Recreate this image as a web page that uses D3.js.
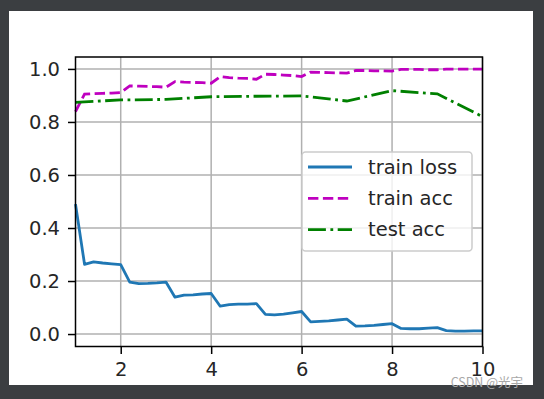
<!DOCTYPE html>
<html>
<head>
<meta charset="utf-8">
<script src="https://cdn.jsdelivr.net/npm/d3@7"></script>
<style>
  body { margin: 0; background: #3b3e41; }
  svg { display: block; }
</style>
</head>
<body>
<svg id="svg1" width="544" height="399"></svg>
<script>
// batch positions (epoch fractions) for the train curves
var batchX = [1.0, 1.2, 1.4, 1.6, 1.8, 2.0, 2.2, 2.4, 2.6, 2.8, 3.0, 3.2, 3.4, 3.6, 3.8, 4.0,
	4.2, 4.4, 4.6, 4.8, 5.0, 5.2, 5.4, 5.6, 5.8, 6.0, 6.2, 6.4, 6.6, 6.8, 7.0,
	7.2, 7.4, 7.6, 7.8, 8.0, 8.2, 8.4, 8.6, 8.8, 9.0, 9.2, 9.4, 9.6, 9.8, 10.0];

var trainLoss = [0.49, 0.263, 0.272, 0.268, 0.265, 0.262, 0.196, 0.19, 0.191, 0.193, 0.196,
	0.139, 0.147, 0.148, 0.151, 0.153, 0.105, 0.111, 0.113, 0.113, 0.115,
	0.074, 0.072, 0.075, 0.08, 0.085, 0.046, 0.048, 0.05, 0.053, 0.056,
	0.03, 0.031, 0.033, 0.036, 0.039, 0.021, 0.02, 0.02, 0.022, 0.024,
	0.013, 0.011, 0.011, 0.012, 0.012];

var trainAcc = [0.839, 0.905, 0.907, 0.908, 0.909, 0.911, 0.936, 0.935, 0.934, 0.933, 0.931,
	0.952, 0.95, 0.949, 0.948, 0.946, 0.971, 0.967, 0.965, 0.964, 0.961,
	0.98, 0.979, 0.977, 0.975, 0.971, 0.988, 0.987, 0.986, 0.985, 0.984,
	0.994, 0.994, 0.993, 0.993, 0.992, 0.998, 0.998, 0.998, 0.997, 0.997,
	0.999, 0.999, 0.999, 0.999, 0.999];

var epochX = [1, 2, 3, 4, 5, 6, 7, 8, 9, 10];
var testAcc = [0.874, 0.883, 0.885, 0.895, 0.897, 0.898, 0.879, 0.918, 0.906, 0.82];

var xTicks = [2, 4, 6, 8, 10];
var yTicks = [0.0, 0.2, 0.4, 0.6, 0.8, 1.0];
var seriesNames = ["train loss", "train acc", "test acc"];

var svg = d3.select("#svg1");

// white figure area
svg.append("rect")
	.attr("x", 9).attr("y", 11)
	.attr("width", 524).attr("height", 374)
	.attr("fill", "white");

var plotLeft = 75.5, plotRight = 482.5, plotTop = 57, plotBottom = 346.5;

var x = d3.scaleLinear().domain([1, 10]).range([plotLeft, plotRight]);
var y = d3.scaleLinear().domain([-0.047, 1.045]).range([plotBottom, plotTop]);

// grid
var grid = svg.append("g");
grid.selectAll(".gx").data(xTicks).enter().append("line")
	.attr("x1", function(d) { return x(d); }).attr("x2", function(d) { return x(d); })
	.attr("y1", plotTop).attr("y2", plotBottom)
	.attr("stroke", "#b0b0b0").attr("stroke-width", 1.5);
grid.selectAll(".gy").data(yTicks).enter().append("line")
	.attr("x1", plotLeft).attr("x2", plotRight)
	.attr("y1", function(d) { return y(d); }).attr("y2", function(d) { return y(d); })
	.attr("stroke", "#b0b0b0").attr("stroke-width", 1.5);

var plot = svg.append("g");

var lineTrain = function(vals) {
	return d3.line()
		.x(function(d, i) { return x(batchX[i]); })
		.y(function(d) { return y(d); })(vals);
};

plot.append("path")
	.attr("d", lineTrain(trainLoss))
	.attr("fill", "none")
	.attr("stroke", "#1f77b4")
	.attr("stroke-width", 2.8)
	.attr("stroke-linejoin", "round");

plot.append("path")
	.attr("d", lineTrain(trainAcc))
	.attr("fill", "none")
	.attr("stroke", "#bf00bf")
	.attr("stroke-width", 2.8)
	.attr("stroke-dasharray", "10.4,4.5");

plot.append("path")
	.attr("d", d3.line()
		.x(function(d, i) { return x(epochX[i]); })
		.y(function(d) { return y(d); })(testAcc))
	.attr("fill", "none")
	.attr("stroke", "#008000")
	.attr("stroke-width", 2.8)
	.attr("stroke-dasharray", "17.9,4.5,2.8,4.5");

// spines
svg.append("rect")
	.attr("x", plotLeft).attr("y", plotTop)
	.attr("width", plotRight - plotLeft).attr("height", plotBottom - plotTop)
	.attr("fill", "none")
	.attr("stroke", "black").attr("stroke-width", 1.5);

// axes
var xAxis = d3.axisBottom(x).tickValues(xTicks).tickSize(7.5).tickPadding(8).tickFormat(d3.format("d"));
var yAxis = d3.axisLeft(y).tickValues(yTicks).tickSize(7.5).tickPadding(8).tickFormat(d3.format(".1f"));

var gx = svg.append("g").attr("transform", "translate(0," + plotBottom + ")").call(xAxis);
var gy = svg.append("g").attr("transform", "translate(" + plotLeft + ",0)").call(yAxis);
[gx, gy].forEach(function(g) {
	g.select(".domain").remove();
	g.selectAll(".tick line").attr("stroke", "black").attr("stroke-width", 1.5);
	g.selectAll(".tick text")
		.attr("fill", "#262626")
		.style("font-family", "DejaVu Sans")
		.style("font-size", "19.5px");
});

// legend
var legend = svg.append("g").attr("transform", "translate(302,152)");
legend.append("rect")
	.attr("width", 170).attr("height", 99)
	.attr("rx", 3.5)
	.attr("fill", "white").attr("fill-opacity", 0.8)
	.attr("stroke", "#cccccc").attr("stroke-width", 1.5);

var legendStyles = [
	{ color: "#1f77b4", dash: null },
	{ color: "#bf00bf", dash: "10.4,4.5" },
	{ color: "#008000", dash: "17.9,4.5,2.8,4.5" }
];

var items = legend.selectAll(".item").data(seriesNames).enter().append("g")
	.attr("transform", function(d, i) { return "translate(0," + (15 + i * 31.3) + ")"; });
items.append("line")
	.attr("x1", 6).attr("x2", 50)
	.attr("stroke", function(d, i) { return legendStyles[i].color; })
	.attr("stroke-width", 2.8)
	.attr("stroke-dasharray", function(d, i) { return legendStyles[i].dash; });
items.append("text")
	.attr("x", 66).attr("dy", "0.35em")
	.attr("fill", "#262626")
	.style("font-family", "DejaVu Sans")
	.style("font-size", "19.5px")
	.text(function(d) { return d; });

// watermark
svg.append("text")
	.attr("x", 523).attr("y", 387)
	.attr("text-anchor", "end")
	.attr("fill", "#a8a8a8")
	.style("font-family", "Noto Sans CJK SC")
	.style("font-size", "12.5px")
	.text("CSDN @光宇");
</script>
</body>
</html>
